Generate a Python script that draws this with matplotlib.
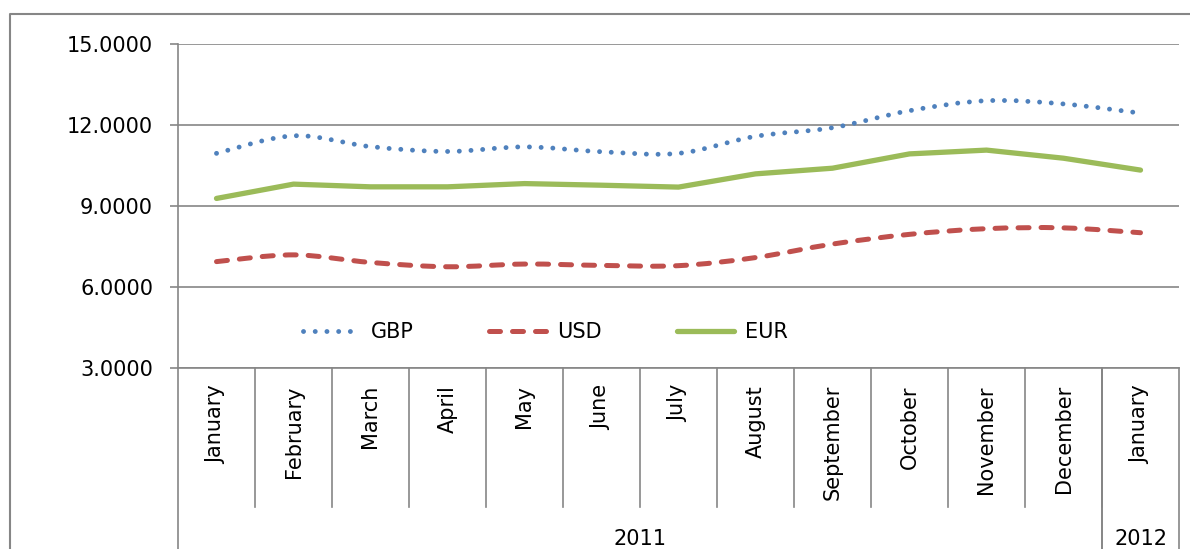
import matplotlib
matplotlib.use("Agg")
import matplotlib.pyplot as plt
from matplotlib.path import Path
from matplotlib.patches import PathPatch
from matplotlib.lines import Line2D

plt.rcParams['font.family'] = ['DejaVu Sans']

# data
months = ["January", "February", "March", "April", "May", "June", "July",
          "August", "September", "October", "November", "December", "January"]
years = ["2011", "2012"]
year_spans = [(0, 11), (12, 12)]
gbp = [10.95, 11.60, 11.20, 11.02, 11.19, 11.01, 10.95, 11.58, 11.90, 12.53, 12.90, 12.78, 12.44]
usd = [6.94, 7.19, 6.91, 6.75, 6.85, 6.80, 6.79, 7.09, 7.59, 7.95, 8.16, 8.19, 8.01]
eur = [9.28, 9.81, 9.71, 9.71, 9.83, 9.77, 9.70, 10.19, 10.40, 10.93, 11.07, 10.77, 10.33]
yticks = [3, 6, 9, 12, 15]

GRID = "#868686"
BLUE = "#4F81BD"
RED = "#C0504D"
GREEN = "#9BBB59"


def smooth_path(xs, ys):
    # excel-style smoothed line (catmull-rom as cubic bezier)
    n = len(xs)
    verts = [(xs[0], ys[0])]
    codes = [Path.MOVETO]
    for i in range(n - 1):
        x0, y0 = xs[max(i - 1, 0)], ys[max(i - 1, 0)]
        x1, y1 = xs[i], ys[i]
        x2, y2 = xs[i + 1], ys[i + 1]
        x3, y3 = xs[min(i + 2, n - 1)], ys[min(i + 2, n - 1)]
        verts += [(x1 + (x2 - x0) / 6, y1 + (y2 - y0) / 6),
                  (x2 - (x3 - x1) / 6, y2 - (y3 - y1) / 6),
                  (x2, y2)]
        codes += [Path.CURVE4] * 3
    return Path(verts, codes)


fig = plt.figure(figsize=(11.9, 5.49), dpi=100)
ax = fig.add_axes([178 / 1190, 181 / 549, 1001 / 1190, 324 / 549])

x = list(range(len(months)))

gbp_style = (0, (0.01, 2.4))
usd_style = (0, (2.2, 2.4))

ax.add_patch(PathPatch(smooth_path(x, gbp), fill=False, edgecolor=BLUE, lw=3.5,
                       linestyle=gbp_style, capstyle='round', zorder=3))
ax.add_patch(PathPatch(smooth_path(x, usd), fill=False, edgecolor=RED, lw=3.6,
                       linestyle=usd_style, capstyle='round', zorder=3))
ax.plot(x, eur, color=GREEN, lw=3.8, solid_capstyle='round', zorder=3)

ax.set_xlim(-0.5, len(months) - 0.5)
ax.set_ylim(3, 15)
ax.set_yticks(yticks)
ax.set_yticklabels([f"{v:.4f}" for v in yticks], fontsize=15)
ax.tick_params(axis='y', length=6, width=1.2, color=GRID, pad=12)
ax.set_xticks([])
ax.grid(axis='y', color=GRID, lw=1.2)
ax.set_axisbelow(True)
for s in ["top", "right"]:
    ax.spines[s].set_visible(False)
for s in ["left", "bottom"]:
    ax.spines[s].set_color(GRID)
    ax.spines[s].set_linewidth(1.2)

# multi-level category axis
tr = ax.get_xaxis_transform()
for i in range(1, len(months)):
    ax.plot([i - 0.5, i - 0.5], [0, -0.429], transform=tr, color=GRID, lw=1.2, clip_on=False)
for i, m in enumerate(months):
    ax.text(i, -0.0525, m, transform=tr, rotation=90, ha='center', va='top', fontsize=15)
for (a, b), yr in zip(year_spans, years):
    for edge in (a - 0.5, b + 0.5):
        ax.plot([edge, edge], [0, -0.6], transform=tr, color=GRID, lw=1.2, clip_on=False)
    ax.text((a + b) / 2, -0.497, yr, transform=tr, ha='center', va='top', fontsize=15)

# legend
handles = [Line2D([], [], color=BLUE, lw=3.5, linestyle=gbp_style, dash_capstyle='round'),
           Line2D([], [], color=RED, lw=3.6, linestyle=usd_style, dash_capstyle='round'),
           Line2D([], [], color=GREEN, lw=3.8, solid_capstyle='round')]
ax.legend(handles, ["GBP", "USD", "EUR"], ncol=3, frameon=False, fontsize=15,
          loc='center', bbox_to_anchor=(0.367, 0.11), handlelength=2.75,
          handletextpad=0.53, columnspacing=3.6)

# outer chart border
fig.add_artist(Line2D([10 / 1190, 10 / 1190, 1.0], [0, 1 - 14 / 549, 1 - 14 / 549],
                      transform=fig.transFigure, color=GRID, lw=1.5))

fig.savefig("out.png", dpi=100)
